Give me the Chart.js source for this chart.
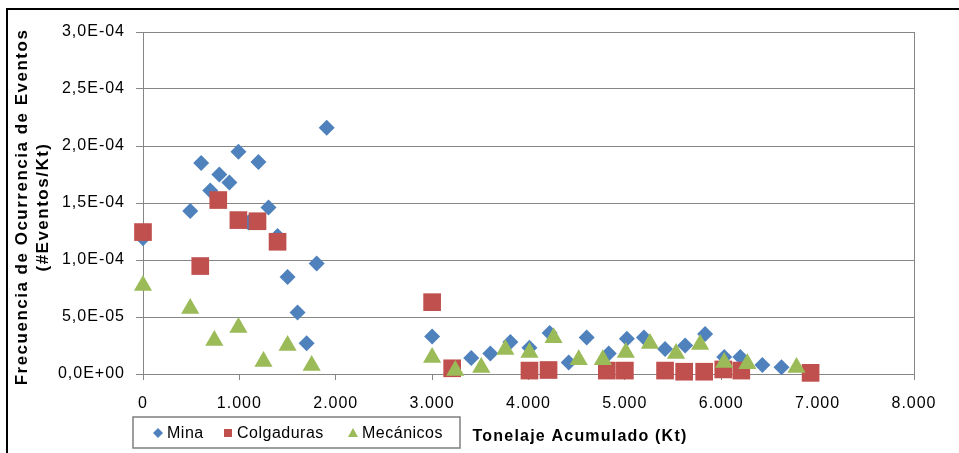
<!DOCTYPE html>
<html>
<head>
<meta charset="utf-8">
<script src="https://cdn.jsdelivr.net/npm/chart.js@4"></script>
<style>
  html, body { margin: 0; padding: 0; background: #fff; }
  #wrap { width: 959px; height: 453px; }
</style>
</head>
<body>
<div id="wrap"><canvas id="chart" width="959" height="453"></canvas></div>
<script>
// Series data (x in Kt, y in events/Kt)
const seriesNames = ['Mina', 'Colgaduras', 'Mecánicos'];

const minaX = [0, 490, 604, 698, 792, 896, 990, 1094, 1198, 1302, 1396, 1500, 1604, 1698, 1802, 1906,
    3000, 3406, 3604, 3812, 4010, 4219, 4417, 4604, 4833, 5021, 5198, 5417, 5625, 5833, 6031, 6198, 6427, 6625];
const minaY = [1.19e-4, 1.43e-4, 1.85e-4, 1.61e-4, 1.75e-4, 1.68e-4, 1.95e-4, 1.33e-4, 1.86e-4, 1.46e-4, 1.21e-4,
    0.85e-4, 0.54e-4, 0.27e-4, 0.97e-4, 2.16e-4, 0.33e-4, 0.14e-4, 0.18e-4, 0.28e-4, 0.23e-4, 0.36e-4, 0.10e-4,
    0.32e-4, 0.18e-4, 0.31e-4, 0.32e-4, 0.22e-4, 0.25e-4, 0.35e-4, 0.15e-4, 0.15e-4, 0.08e-4, 0.06e-4];

const colgX = [0, 594, 781, 990, 1188, 1396, 3000, 3208, 4010, 4208, 4813, 5000, 5417, 5615, 5823, 6021, 6208, 6927];
const colgY = [1.245e-4, 0.947e-4, 1.526e-4, 1.35e-4, 1.34e-4, 1.16e-4, 0.63e-4, 0.05e-4, 0.03e-4, 0.035e-4,
    0.03e-4, 0.03e-4, 0.03e-4, 0.02e-4, 0.02e-4, 0.04e-4, 0.03e-4, 0.01e-4];

const mecX = [0, 490, 740, 990, 1250, 1500, 1750, 3000, 3240, 3510, 3760, 4010, 4260, 4521, 4771, 5010, 5260,
    5531, 5781, 6031, 6271, 6781];
const mecY = [0.776e-4, 0.574e-4, 0.293e-4, 0.407e-4, 0.109e-4, 0.249e-4, 0.074e-4, 0.144e-4, 0.03e-4, 0.056e-4,
    0.214e-4, 0.188e-4, 0.319e-4, 0.126e-4, 0.126e-4, 0.188e-4, 0.267e-4, 0.179e-4, 0.258e-4, 0.10e-4, 0.091e-4, 0.056e-4];

// Axis ranges and ticks
const xMin = 0, xMax = 8000, xStep = 1000;
const yMin = 0, yMax = 3e-4, yStep = 5e-5;

const yTitle = ['Frecuencia de Ocurrencia de Eventos', '(#Eventos/Kt)'];
const xTitle = 'Tonelaje Acumulado (Kt)';

const colors = ['#4F81BD', '#C0504D', '#9BBB59'];
const styles = ['rectRot', 'rect', 'triangle'];
const radii = [8, 12.5, 10.5];

const FONT = '"Liberation Sans", Arial, sans-serif';
const GRID = '#868686';

function toPoints(xs, ys) {
    return xs.map((x, i) => ({ x: x, y: ys[i] }));
}

// "3,0E-04" style labels
function fmtExp(v) {
    const parts = v.toExponential(1).split('e');
    const n = parseInt(parts[1], 10);
    return parts[0].replace('.', ',') + 'E' + (n < 0 ? '-' : '+') + String(Math.abs(n)).padStart(2, '0');
}

// "1.000" style labels
function fmtThousands(v) {
    return String(Math.round(v)).replace(/\B(?=(\d{3})+(?!\d))/g, '.');
}

function drawMarker(ctx, style, x, y, r, color) {
    ctx.fillStyle = color;
    ctx.beginPath();
    if (style === 'rectRot') {
        ctx.moveTo(x, y - r); ctx.lineTo(x + r, y); ctx.lineTo(x, y + r); ctx.lineTo(x - r, y);
    } else if (style === 'rect') {
        ctx.rect(x - r, y - r, 2 * r, 2 * r);
    } else {
        ctx.moveTo(x, y - r); ctx.lineTo(x + r, y + r * 0.8); ctx.lineTo(x - r, y + r * 0.8);
    }
    ctx.closePath();
    ctx.fill();
}

// frame, plot border, axis titles and the legend box
const decorations = {
    id: 'decorations',
    beforeDraw(chart) {
        const ctx = chart.ctx;
        ctx.save();
        ctx.fillStyle = '#fff';
        ctx.fillRect(0, 0, chart.width, chart.height);
        ctx.restore();
        // the original's tick text is a bit wider than Arial
        ctx.letterSpacing = '1px';
    },
    afterDraw(chart) {
        const ctx = chart.ctx;
        const a = chart.chartArea;
        ctx.save();

        // right edge of plot area
        ctx.strokeStyle = GRID;
        ctx.lineWidth = 1;
        ctx.beginPath();
        ctx.moveTo(Math.round(a.right) + 0.5, a.top);
        ctx.lineTo(Math.round(a.right) + 0.5, a.bottom);
        ctx.stroke();

        // outer chart frame (top and left only visible)
        ctx.strokeStyle = '#000';
        ctx.lineWidth = 2;
        ctx.beginPath();
        ctx.moveTo(7, chart.height);
        ctx.lineTo(7, 9);
        ctx.lineTo(chart.width, 9);
        ctx.stroke();

        // y axis title, two rotated lines
        ctx.fillStyle = '#000';
        ctx.font = 'bold 17px ' + FONT;
        ctx.textAlign = 'center';
        ctx.textBaseline = 'middle';
        const cy = (a.top + a.bottom) / 2;
        ctx.save();
        ctx.translate(22, cy + 4);
        ctx.rotate(-Math.PI / 2);
        ctx.letterSpacing = '1.5px';
        ctx.fillText(yTitle[0], 0, 0);
        ctx.fillText(yTitle[1], 0, 21);
        ctx.restore();

        // x axis title
        ctx.font = 'bold 16px ' + FONT;
        ctx.letterSpacing = '1.2px';
        ctx.fillText(xTitle, 580, 437);

        // legend box
        ctx.letterSpacing = '0.5px';
        ctx.strokeStyle = '#7f7f7f';
        ctx.lineWidth = 1.5;
        ctx.strokeRect(133, 417, 327, 31);
        const itemX = [158, 228, 353];
        const smallR = [5, 4, 5];
        ctx.font = '16px ' + FONT;
        ctx.textAlign = 'left';
        for (let i = 0; i < seriesNames.length; i++) {
            drawMarker(ctx, styles[i], itemX[i], 433, smallR[i], colors[i]);
            ctx.fillStyle = '#000';
            ctx.fillText(seriesNames[i], itemX[i] + 9, 434);
        }
        ctx.restore();
        ctx.letterSpacing = '0px';
    }
};

const ctx = document.getElementById('chart').getContext('2d');
const chart = new Chart(ctx, {
    type: 'scatter',
    data: {
        datasets: [
            { label: seriesNames[0], data: toPoints(minaX, minaY), order: 3 },
            { label: seriesNames[1], data: toPoints(colgX, colgY), order: 2 },
            { label: seriesNames[2], data: toPoints(mecX, mecY), order: 1 }
        ].map((d, i) => Object.assign(d, {
            pointStyle: styles[i],
            pointRadius: radii[i],
            pointHoverRadius: radii[i],
            backgroundColor: colors[i],
            borderColor: colors[i],
            borderWidth: 0,
            clip: false
        }))
    },
    options: {
        responsive: false,
        animation: false,
        layout: { padding: { top: 32, right: 45, left: 0, bottom: 0 } },
        plugins: {
            legend: { display: false },
            tooltip: { enabled: false }
        },
        scales: {
            x: {
                type: 'linear',
                min: xMin,
                max: xMax,
                afterFit(scale) { scale.height = 79; },
                ticks: {
                    stepSize: xStep,
                    padding: 14,
                    color: '#000',
                    font: { family: FONT, size: 16 },
                    maxRotation: 0,
                    callback: v => fmtThousands(v)
                },
                grid: {
                    drawOnChartArea: false,
                    drawTicks: true,
                    tickLength: 6,
                    color: GRID
                },
                border: { color: GRID, width: 1 }
            },
            y: {
                type: 'linear',
                min: yMin,
                max: yMax,
                afterFit(scale) { scale.width = 143; },
                ticks: {
                    stepSize: yStep,
                    padding: 11,
                    color: '#000',
                    font: { family: FONT, size: 16 },
                    callback: v => fmtExp(v)
                },
                grid: {
                    color: GRID,
                    tickLength: 7,
                    lineWidth: 1
                },
                border: { color: GRID, width: 1 }
            }
        }
    },
    plugins: [decorations]
});
</script>
</body>
</html>
